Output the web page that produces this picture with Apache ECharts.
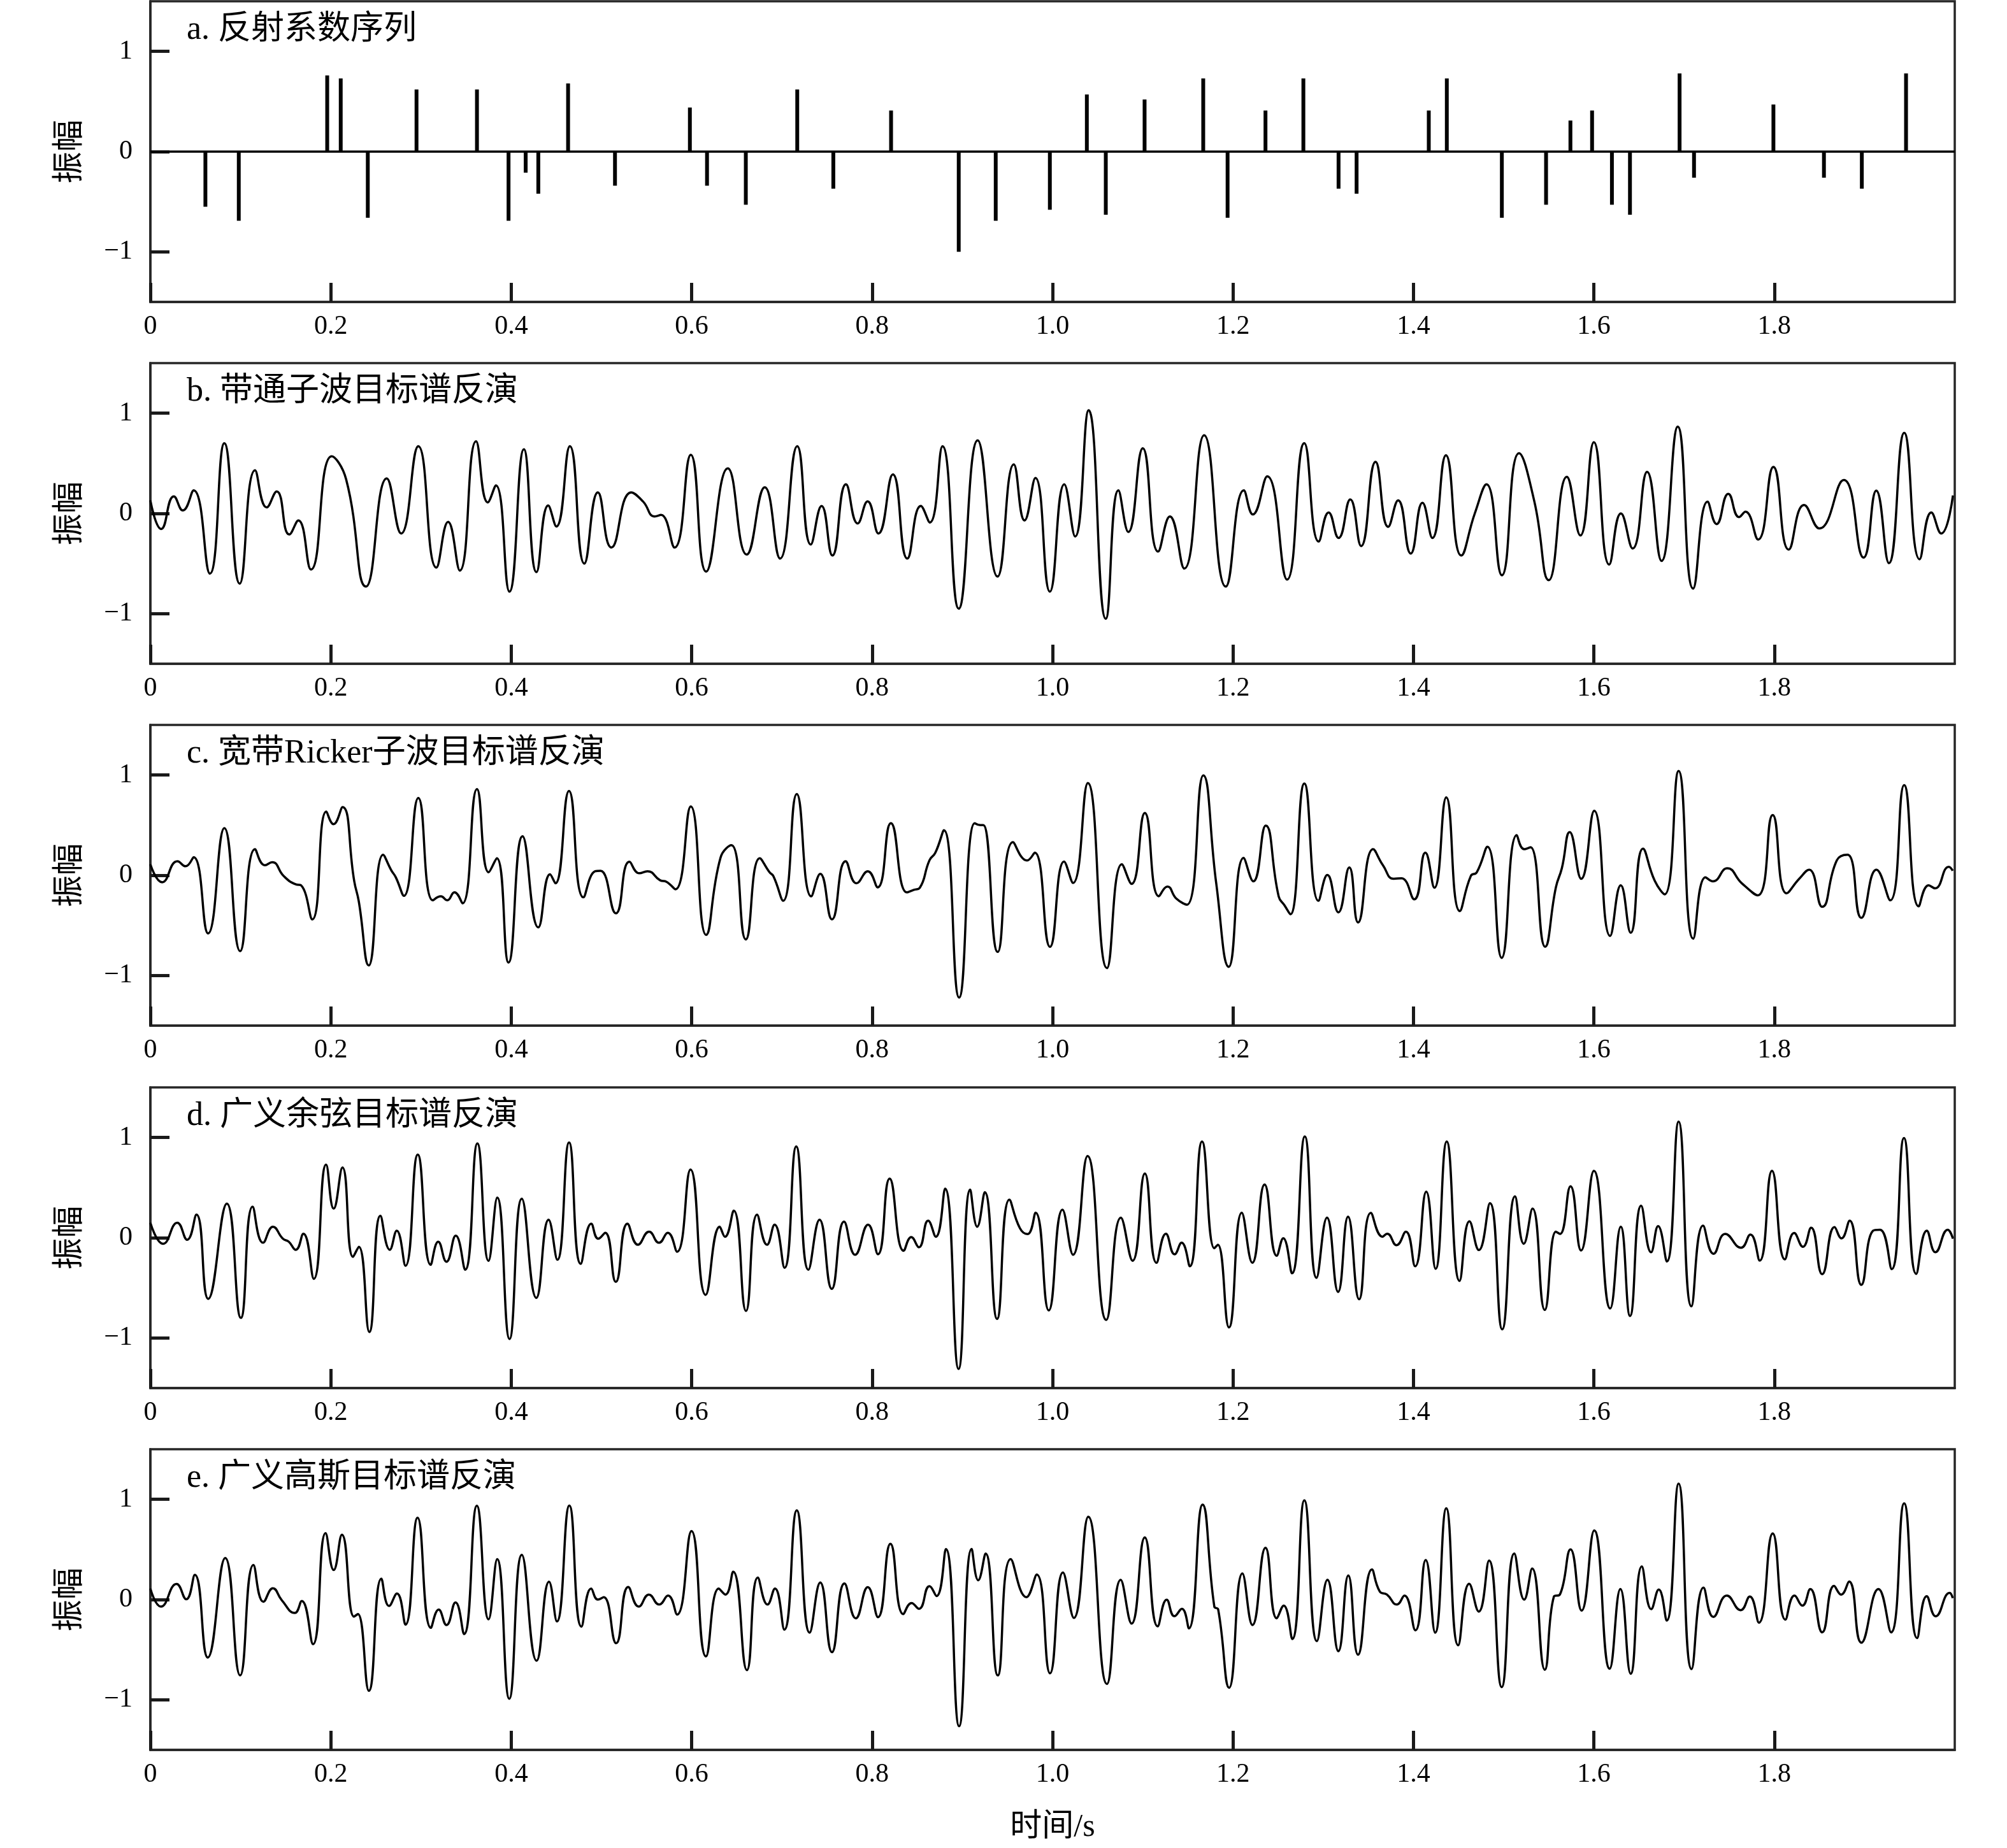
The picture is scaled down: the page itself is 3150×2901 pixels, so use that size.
<!DOCTYPE html>
<html><head><meta charset="utf-8">
<script src="https://cdn.jsdelivr.net/npm/echarts@6/dist/echarts.min.js"></script>
<style>html,body{margin:0;padding:0;background:#fff}#c{width:3150px;height:2901px}</style>
</head><body><div id="c"></div>
<script>
const timeTicks = [0, 0.2, 0.4, 0.6, 0.8, 1.0, 1.2, 1.4, 1.6, 1.8];
const ampTicks = [-1, 0, 1];
const panelTitles = ['a. 反射系数序列', 'b. 带通子波目标谱反演', 'c. 宽带Ricker子波目标谱反演', 'd. 广义余弦目标谱反演', 'e. 广义高斯目标谱反演'];
const yName = '振幅';
const xName = '时间/s';

const spikeTime = [0.061,0.098,0.196,0.211,0.241,0.295,0.362,0.397,0.416,0.430,0.463,0.515,0.598,0.617,0.660,0.717,0.757,0.821,0.896,0.937,0.997,1.038,1.059,1.102,1.167,1.194,1.236,1.278,1.317,1.337,1.417,1.437,1.498,1.547,1.574,1.598,1.620,1.640,1.695,1.711,1.799,1.855,1.897,1.946];
const spikeAmp = [-0.55,-0.69,0.76,0.73,-0.66,0.62,0.62,-0.69,-0.21,-0.42,0.68,-0.34,0.44,-0.34,-0.53,0.62,-0.37,0.41,-1.0,-0.69,-0.58,0.57,-0.63,0.52,0.73,-0.66,0.41,0.73,-0.37,-0.42,0.41,0.73,-0.66,-0.53,0.31,0.41,-0.53,-0.63,0.78,-0.26,0.47,-0.26,-0.37,0.78];

const traceB = [[0,0.13],[0.012,-0.155],[0.026,0.17],[0.036,0.03],[0.048,0.23],[0.066,-0.60],[0.082,0.70],[0.099,-0.70],[0.116,0.43],[0.129,0.06],[0.140,0.22],[0.154,-0.21],[0.164,-0.07],[0.178,-0.56],[0.201,0.57],[0.217,0.34],[0.239,-0.73],[0.262,0.35],[0.278,-0.20],[0.297,0.67],[0.317,-0.54],[0.330,-0.085],[0.343,-0.57],[0.361,0.72],[0.374,0.11],[0.383,0.28],[0.398,-0.78],[0.414,0.64],[0.428,-0.585],[0.441,0.08],[0.450,-0.13],[0.465,0.67],[0.481,-0.50],[0.496,0.21],[0.511,-0.34],[0.533,0.21],[0.546,0.12],[0.559,-0.03],[0.566,-0.015],[0.581,-0.34],[0.599,0.585],[0.616,-0.58],[0.640,0.45],[0.661,-0.41],[0.681,0.26],[0.698,-0.45],[0.717,0.67],[0.732,-0.31],[0.744,0.075],[0.756,-0.42],[0.771,0.29],[0.784,-0.10],[0.795,0.12],[0.807,-0.20],[0.823,0.39],[0.839,-0.45],[0.854,0.075],[0.864,-0.09],[0.878,0.67],[0.896,-0.95],[0.917,0.73],[0.939,-0.63],[0.957,0.49],[0.969,-0.07],[0.981,0.355],[0.997,-0.78],[1.013,0.29],[1.025,-0.23],[1.040,1.03],[1.059,-1.05],[1.073,0.23],[1.084,-0.185],[1.100,0.65],[1.117,-0.38],[1.130,-0.03],[1.146,-0.55],[1.168,0.78],[1.192,-0.73],[1.212,0.23],[1.222,-0.01],[1.238,0.37],[1.260,-0.66],[1.279,0.70],[1.295,-0.28],[1.306,0.01],[1.317,-0.245],[1.330,0.14],[1.342,-0.325],[1.358,0.515],[1.372,-0.134],[1.383,0.13],[1.397,-0.40],[1.410,0.106],[1.421,-0.245],[1.436,0.58],[1.453,-0.42],[1.468,0.0],[1.481,0.29],[1.498,-0.617],[1.517,0.60],[1.534,0.12],[1.550,-0.666],[1.570,0.366],[1.585,-0.22],[1.600,0.71],[1.617,-0.51],[1.630,0.0],[1.643,-0.35],[1.659,0.415],[1.675,-0.474],[1.693,0.866],[1.710,-0.75],[1.726,0.117],[1.736,-0.106],[1.749,0.196],[1.761,-0.036],[1.768,0.017],[1.782,-0.26],[1.799,0.464],[1.816,-0.36],[1.833,0.085],[1.850,-0.15],[1.877,0.334],[1.899,-0.44],[1.913,0.228],[1.927,-0.496],[1.944,0.804],[1.961,-0.457],[1.974,0.01],[1.985,-0.20],[1.998,0.18]];

const traceC = [[0,0.11],[0.013,-0.07],[0.030,0.14],[0.039,0.09],[0.048,0.18],[0.064,-0.58],[0.082,0.47],[0.0995,-0.757],[0.116,0.26],[0.127,0.10],[0.135,0.13],[0.148,-0.01],[0.161,-0.09],[0.167,-0.10],[0.1795,-0.44],[0.195,0.635],[0.203,0.51],[0.213,0.68],[0.226,-0.06],[0.231,-0.26],[0.242,-0.90],[0.258,0.205],[0.267,0.05],[0.272,-0.02],[0.281,-0.205],[0.297,0.77],[0.313,-0.25],[0.322,-0.21],[0.329,-0.25],[0.337,-0.17],[0.346,-0.28],[0.362,0.86],[0.375,0.03],[0.384,0.17],[0.397,-0.87],[0.4125,0.39],[0.430,-0.52],[0.443,0.01],[0.449,-0.08],[0.464,0.84],[0.480,-0.22],[0.493,0.04],[0.499,0.045],[0.516,-0.38],[0.531,0.135],[0.542,0.02],[0.551,0.04],[0.565,-0.05],[0.572,-0.065],[0.582,-0.14],[0.599,0.686],[0.616,-0.595],[0.632,0.177],[0.644,0.30],[0.660,-0.64],[0.6755,0.17],[0.6863,0.03],[0.6906,-0.01],[0.7014,-0.255],[0.7165,0.81],[0.7325,-0.21],[0.7425,0.014],[0.7555,-0.44],[0.7706,0.14],[0.7827,-0.08],[0.7952,0.04],[0.8061,-0.12],[0.8208,0.52],[0.8385,-0.17],[0.8463,-0.145],[0.8528,-0.125],[0.8636,0.15],[0.8701,0.225],[0.8796,0.45],[0.8964,-1.22],[0.9137,0.52],[0.9198,0.50],[0.9232,0.50],[0.9392,-0.765],[0.9561,0.33],[0.9717,0.147],[0.9803,0.225],[0.9972,-0.714],[1.0128,0.137],[1.0227,-0.077],[1.0391,0.92],[1.0603,-0.926],[1.0768,0.11],[1.0876,-0.086],[1.1023,0.622],[1.1178,-0.209],[1.1273,-0.113],[1.1373,-0.234],[1.149,-0.294],[1.1671,0.996],[1.1814,-0.08],[1.1953,-0.913],[1.2117,0.173],[1.2225,-0.06],[1.2363,0.495],[1.2506,-0.21],[1.2571,-0.30],[1.2636,-0.39],[1.2791,0.915],[1.2947,-0.255],[1.3046,0.003],[1.3168,-0.37],[1.3289,0.078],[1.3386,-0.47],[1.3553,0.26],[1.3662,0.10],[1.3781,-0.035],[1.3868,-0.03],[1.4009,-0.24],[1.4132,0.226],[1.4232,-0.124],[1.4364,0.777],[1.4513,-0.357],[1.4636,-0.007],[1.4702,0.03],[1.482,0.285],[1.4978,-0.824],[1.5145,0.40],[1.5228,0.26],[1.5298,0.28],[1.546,-0.713],[1.5579,-0.12],[1.5645,0.07],[1.5732,0.43],[1.586,-0.035],[1.6004,0.644],[1.618,-0.605],[1.6298,-0.10],[1.6408,-0.574],[1.6544,0.266],[1.6675,-0.056],[1.6785,-0.19],[1.6939,1.04],[1.7101,-0.633],[1.7237,-0.02],[1.732,-0.06],[1.7478,0.07],[1.764,-0.08],[1.7816,-0.20],[1.7982,0.60],[1.8136,-0.18],[1.8276,-0.035],[1.8386,0.056],[1.8531,-0.315],[1.8693,0.15],[1.8811,0.205],[1.8965,-0.425],[1.9132,0.056],[1.9285,-0.25],[1.9439,0.90],[1.96,-0.31],[1.9711,-0.10],[1.9781,-0.13],[1.9934,0.085],[1.9978,0.045]];

const traceD = [[0,0.15],[0.0142,-0.06],[0.0298,0.15],[0.0408,-0.02],[0.0511,0.23],[0.0641,-0.61],[0.0848,0.34],[0.1003,-0.80],[0.1133,0.31],[0.1249,-0.05],[0.1359,0.11],[0.1469,-0.01],[0.1534,-0.04],[0.1612,-0.12],[0.1696,0.04],[0.1812,-0.41],[0.1948,0.73],[0.2032,0.29],[0.2129,0.70],[0.2246,-0.19],[0.2311,-0.09],[0.2427,-0.94],[0.255,0.22],[0.2654,-0.12],[0.2731,0.07],[0.2828,-0.28],[0.2964,0.83],[0.3107,-0.27],[0.3191,-0.04],[0.3282,-0.24],[0.3385,0.02],[0.3489,-0.32],[0.3625,0.94],[0.3748,-0.23],[0.3845,0.40],[0.3981,-1.01],[0.4117,0.39],[0.4278,-0.60],[0.4414,0.18],[0.4511,-0.22],[0.4641,0.95],[0.477,-0.26],[0.4887,0.14],[0.4964,-0.01],[0.5042,0.05],[0.5159,-0.44],[0.5288,0.14],[0.5405,-0.07],[0.5528,0.06],[0.5638,-0.05],[0.5735,0.05],[0.5838,-0.14],[0.5987,0.68],[0.6155,-0.57],[0.6311,0.11],[0.6369,0.01],[0.6466,0.27],[0.6602,-0.73],[0.6725,0.23],[0.6835,-0.07],[0.6919,0.13],[0.7029,-0.30],[0.7159,0.91],[0.7294,-0.32],[0.7417,0.18],[0.7553,-0.51],[0.7689,0.16],[0.7812,-0.17],[0.7955,0.13],[0.8065,-0.165],[0.8194,0.59],[0.835,-0.13],[0.8434,0.006],[0.8518,-0.095],[0.8621,0.17],[0.8706,0.01],[0.8809,0.49],[0.8958,-1.31],[0.9087,0.48],[0.9165,0.11],[0.9249,0.455],[0.9385,-0.81],[0.9521,0.38],[0.9638,0.095],[0.9722,0.036],[0.9812,0.25],[0.9958,-0.725],[1.011,0.28],[1.0227,-0.17],[1.0388,0.815],[1.0595,-0.82],[1.0757,0.20],[1.0887,-0.23],[1.1023,0.64],[1.1152,-0.25],[1.1256,0.04],[1.1353,-0.165],[1.143,-0.05],[1.1521,-0.285],[1.1657,0.96],[1.1793,-0.105],[1.1832,-0.07],[1.1955,-0.895],[1.2097,0.25],[1.2214,-0.25],[1.235,0.53],[1.2485,-0.18],[1.2557,-0.004],[1.2654,-0.355],[1.2796,1.01],[1.2926,-0.40],[1.3042,0.20],[1.3165,-0.54],[1.3275,0.21],[1.3398,-0.614],[1.3528,0.248],[1.3657,0.01],[1.3709,0.04],[1.3812,-0.074],[1.3916,0.06],[1.4019,-0.285],[1.4142,0.46],[1.4246,-0.31],[1.4369,0.96],[1.4511,-0.43],[1.4621,0.163],[1.4725,-0.123],[1.4848,0.345],[1.4984,-0.914],[1.5126,0.413],[1.5223,-0.06],[1.532,0.29],[1.5456,-0.72],[1.5579,0.06],[1.5625,0.038],[1.5741,0.514],[1.5858,-0.127],[1.6,0.667],[1.6181,-0.705],[1.6298,0.11],[1.6401,-0.78],[1.6524,0.32],[1.6634,-0.144],[1.6712,0.116],[1.6809,-0.237],[1.6939,1.158],[1.7081,-0.684],[1.721,0.12],[1.7327,-0.16],[1.7456,0.038],[1.7631,-0.10],[1.7735,0.032],[1.7838,-0.228],[1.7974,0.667],[1.8117,-0.216],[1.822,0.047],[1.8317,-0.09],[1.8408,0.10],[1.8531,-0.364],[1.8667,0.106],[1.8744,-0.006],[1.8835,0.17],[1.8964,-0.47],[1.9094,0.07],[1.9172,0.08],[1.9301,-0.313],[1.9437,0.995],[1.9573,-0.36],[1.969,0.07],[1.9786,-0.144],[1.9922,0.08],[1.998,-0.01]];

const traceE = [[0,0.11],[0.0117,-0.07],[0.029,0.155],[0.0398,0.003],[0.0493,0.246],[0.0636,-0.578],[0.083,0.415],[0.0995,-0.757],[0.1142,0.345],[0.1254,-0.022],[0.1358,0.113],[0.1457,-0.007],[0.16,-0.134],[0.1678,-0.014],[0.1803,-0.445],[0.1942,0.662],[0.2032,0.295],[0.2123,0.647],[0.2257,-0.17],[0.23,-0.145],[0.2422,-0.91],[0.256,0.208],[0.2646,-0.064],[0.2733,0.06],[0.2828,-0.25],[0.2962,0.816],[0.3109,-0.282],[0.3196,-0.10],[0.3282,-0.254],[0.3382,-0.028],[0.3477,-0.345],[0.3619,0.936],[0.3749,-0.197],[0.3844,0.404],[0.3978,-0.99],[0.4117,0.446],[0.4281,-0.61],[0.4419,0.178],[0.4506,-0.218],[0.4644,0.938],[0.4778,-0.27],[0.4886,0.11],[0.496,0.0],[0.5025,0.024],[0.5163,-0.436],[0.5297,0.126],[0.5414,-0.07],[0.5526,0.05],[0.5639,-0.05],[0.5738,0.04],[0.5838,-0.149],[0.5998,0.683],[0.6158,-0.567],[0.63,0.11],[0.6374,0.05],[0.646,0.278],[0.6612,-0.704],[0.6733,0.22],[0.6841,-0.05],[0.6923,0.11],[0.7027,-0.30],[0.7165,0.89],[0.7308,-0.33],[0.7425,0.17],[0.7555,-0.525],[0.7693,0.16],[0.7819,-0.187],[0.7952,0.124],[0.8065,-0.176],[0.8203,0.556],[0.8346,-0.145],[0.8437,-0.035],[0.8519,-0.092],[0.8636,0.134],[0.8714,0.035],[0.8818,0.504],[0.8964,-1.264],[0.9103,0.506],[0.9176,0.193],[0.9258,0.46],[0.9393,-0.757],[0.9536,0.404],[0.9709,0.024],[0.9825,0.25],[0.9972,-0.736],[1.0115,0.27],[1.0236,-0.183],[1.0396,0.827],[1.0603,-0.842],[1.0755,0.197],[1.0876,-0.24],[1.1022,0.62],[1.1165,-0.267],[1.1265,-0.001],[1.1351,-0.166],[1.1433,-0.092],[1.1511,-0.288],[1.1663,0.947],[1.1793,-0.07],[1.1836,-0.10],[1.1957,-0.88],[1.2104,0.26],[1.2216,-0.254],[1.236,0.516],[1.2485,-0.187],[1.2562,-0.06],[1.2657,-0.394],[1.2791,0.99],[1.293,-0.415],[1.3047,0.197],[1.3168,-0.515],[1.3278,0.24],[1.3386,-0.55],[1.354,0.30],[1.3627,0.08],[1.3706,0.05],[1.3816,-0.05],[1.39,0.04],[1.4022,-0.307],[1.4136,0.394],[1.4241,-0.33],[1.4364,0.91],[1.4496,-0.456],[1.4618,0.157],[1.4724,-0.12],[1.4838,0.39],[1.4978,-0.874],[1.5118,0.46],[1.5228,0.0],[1.5316,0.31],[1.5456,-0.70],[1.5557,0.03],[1.5623,0.05],[1.5741,0.50],[1.5864,-0.11],[1.6004,0.69],[1.6175,-0.69],[1.6294,0.105],[1.6408,-0.74],[1.6531,0.33],[1.6636,-0.095],[1.6719,0.10],[1.6807,-0.21],[1.6939,1.157],[1.7083,-0.693],[1.7215,0.119],[1.7325,-0.173],[1.7474,0.04],[1.7627,-0.106],[1.7728,0.03],[1.7829,-0.23],[1.7982,0.66],[1.8123,-0.20],[1.8224,0.04],[1.8311,-0.06],[1.8399,0.105],[1.8531,-0.327],[1.8662,0.137],[1.8741,0.05],[1.8829,0.18],[1.8965,-0.43],[1.9154,0.105],[1.9294,-0.327],[1.9439,0.96],[1.9583,-0.384],[1.9689,0.034],[1.9789,-0.167],[1.9943,0.067],[1.9978,0.015]];

const FONT = "'Liberation Serif','Noto Sans CJK SC',serif";
const tops = [2, 570, 1138, 1707, 2275];
const H = 472, L = 236, W = 2832;
const AX = '#262626';
const TICK = '#1a1a1a';

const grids = tops.map(t => ({left: L, top: t, width: W, height: H, show: true,
  borderColor: AX, borderWidth: 3.5}));

const xAxes = tops.map((t, i) => ({
  type: 'value', gridIndex: i, min: 0, max: 2, interval: 0.2,
  axisLine: {show: true, onZero: false, lineStyle: {color: AX, width: 3.5}}, splitLine: {show: false},
  axisTick: {show: true, inside: true, length: 30, customValues: timeTicks, lineStyle: {color: TICK, width: 5}},
  axisLabel: {show: true, customValues: timeTicks, margin: 18, fontFamily: FONT, fontSize: 42, color: '#000',
    formatter: v => v === 0 ? '0' : v.toFixed(1)}
}));

const yAxes = tops.map((t, i) => ({
  type: 'value', gridIndex: i, min: -1.5, max: 1.5, interval: 0.5,
  axisLine: {show: true, onZero: false, lineStyle: {color: AX, width: 3.5}}, splitLine: {show: false},
  axisTick: {show: true, inside: true, length: 30, customValues: ampTicks, lineStyle: {color: TICK, width: 5}},
  axisLabel: {show: true, customValues: ampTicks, margin: 28, fontFamily: FONT, fontSize: 42, color: '#000',
    formatter: v => v < 0 ? '\u2212' + Math.abs(v) : String(v)},
  name: yName, nameLocation: 'middle', nameGap: 100, nameRotate: 90,
  nameTextStyle: {fontFamily: FONT, fontSize: 50, color: '#000'}
}));

const series = [{
  type: 'bar', xAxisIndex: 0, yAxisIndex: 0, barWidth: 6, silent: true,
  itemStyle: {color: '#000'},
  data: spikeTime.map((t, i) => [t, spikeAmp[i]]),
  markLine: {silent: true, symbol: ['none', 'none'], label: {show: false},
    lineStyle: {color: '#000', width: 3.5, type: 'solid'}, data: [{yAxis: 0}]}
}];
[traceB, traceC, traceD, traceE].forEach((d, k) => {
  series.push({type: 'line', xAxisIndex: k + 1, yAxisIndex: k + 1, data: d, smooth: 0.5,
    showSymbol: false, silent: true,
    lineStyle: {color: '#000', width: 3.5}});
});

const graphics = panelTitles.map((s, i) => ({type: 'text', left: 293, top: tops[i] + 19, silent: true,
  style: {text: s, font: '52px ' + FONT, fill: '#000'}}));
graphics.push({type: 'text', x: 1652, y: 2869, silent: true,
  style: {text: xName, font: '50px ' + FONT, fill: '#000', align: 'center', verticalAlign: 'middle'}});

const chart = echarts.init(document.getElementById('c'));
chart.setOption({
  animation: false, backgroundColor: '#fff',
  grid: grids, xAxis: xAxes, yAxis: yAxes, series: series, graphic: graphics
});
</script></body></html>
